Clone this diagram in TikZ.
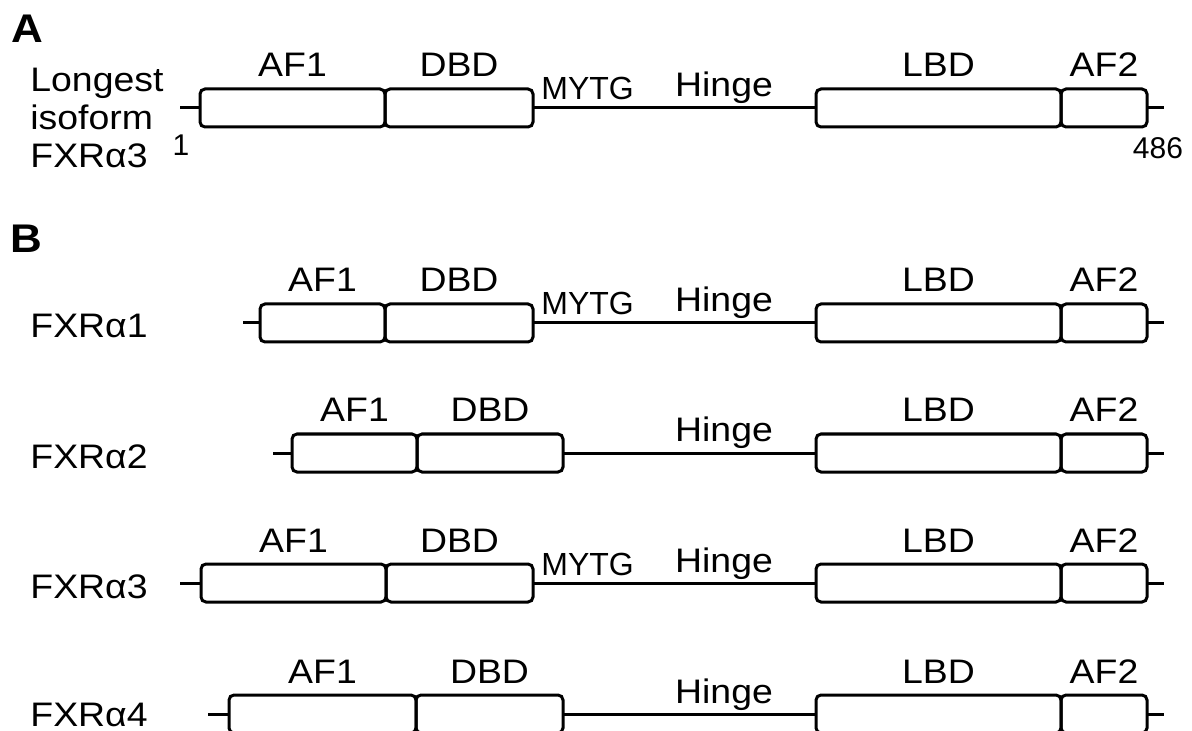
\documentclass[tikz,border=0pt]{standalone}
\usepackage{fontspec}
\setmainfont{Liberation Sans}[FakeStretch=1.1]
\newfontfamily\narrowsans{Liberation Sans}
\tikzset{
  box/.style={draw, line width=1.5pt, rounded corners=2.5pt, minimum height=19pt,
    inner sep=0pt, outer sep=0pt},
  tail/.style={line width=1.5pt},
  lab/.style={font=\fontsize{17}{20}\selectfont, inner sep=0pt, anchor=base},
  motif/.style={font=\narrowsans\fontsize{16}{18}\selectfont, inner sep=0pt, anchor=base west},
  isoname/.style={lab, anchor=base west},
  num/.style={font=\narrowsans\fontsize{15}{17}\selectfont, inner sep=0pt, anchor=base},
  panel/.style={font=\bfseries\fontsize{20}{24}\selectfont, inner sep=0pt, anchor=base west},
}
% domain box from x1 to x2 on the line at y, with its name above
\newcommand\dombox[5]{%
  \node[box, minimum width={(#3-#2)*0.5pt}] (#1) at ({(#2+#3)/2},#4) {};
  \node[lab] (#1-t) at ({(#2+#3)/2},#4-31) {#5};
}
% one isoform: prefix, line y, left tail x, AF1 start, AF1/DBD split, DBD end
\newcommand\isoform[6]{%
  \coordinate (#1-l) at (#3,#2);
  \coordinate (#1-r) at (1164,#2);
  \dombox{#1-af1}{#4}{#5}{#2}{AF1}
  \dombox{#1-dbd}{#5}{#6}{#2}{DBD}
  \dombox{#1-lbd}{816}{1061}{#2}{LBD}
  \dombox{#1-af2}{1061}{1147}{#2}{AF2}
  \draw[tail] (#1-l) -- (#1-af1.west);
  \draw[tail] (#1-dbd.east) -- (#1-lbd.west);
  \draw[tail] (#1-af2.east) -- (#1-r);
  \node[lab] (#1-hinge) at (724,#2-11) {Hinge};
}
\begin{document}
\begin{tikzpicture}[x=0.5pt, y=-0.5pt]
  \useasboundingbox (0,0) rectangle (1192,731);
  \clip (0,0) rectangle (1192,731);

  % panel A
  \node[panel] (pa) at (11,43) {A};
  \node[isoname] (la1) at (30,92) {Longest};
  \node[isoname] (la2) at (30,130) {isoform};
  \node[isoname] (la3) at (30,168) {FXRα3};
  \isoform{a}{108}{180}{200}{385}{533}
  \node[motif] (a-mytg) at (541,100) {MYTG};
  \node[num] (n1) at (181,156) {1};
  \node[num] (n486) at (1158,159) {486};

  % panel B
  \node[panel] (pb) at (10,253) {B};

  \node[isoname] (lb1) at (30,338) {FXRα1};
  \isoform{b1}{323}{243}{260}{385}{533}
  \node[motif] (b1-mytg) at (541,315) {MYTG};

  \node[isoname] (lb2) at (30,468) {FXRα2};
  \isoform{b2}{453}{273}{292}{417}{563}

  \node[isoname] (lb3) at (30,598) {FXRα3};
  \isoform{b3}{583}{180}{201}{386}{533}
  \node[motif] (b3-mytg) at (541,575) {MYTG};

  \node[isoname] (lb4) at (30,726) {FXRα4};
  \isoform{b4}{714}{208}{229}{416}{563}
\end{tikzpicture}
\end{document}
